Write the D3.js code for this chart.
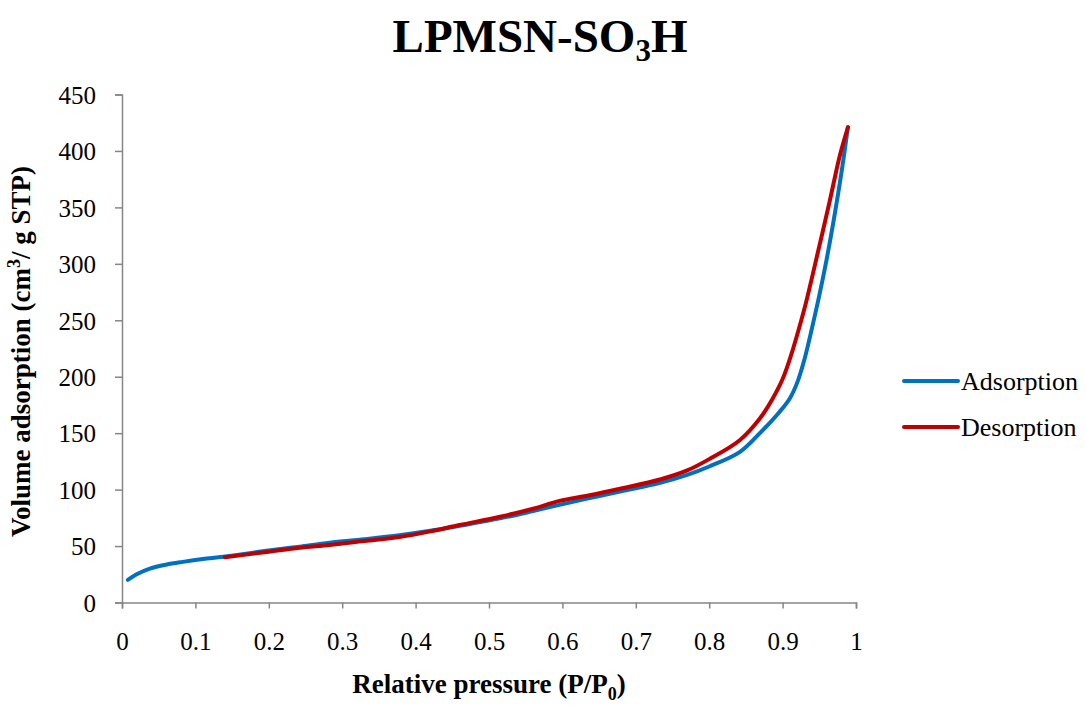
<!DOCTYPE html>
<html>
<head>
<meta charset="utf-8">
<script src="https://cdn.jsdelivr.net/npm/d3@7"></script>
<style>
  body { margin: 0; background: #fff; }
  svg text { font-family: "Times New Roman", "Liberation Serif", serif; fill: #000; }
</style>
</head>
<body>
<script>
// relative pressure / volume
const adsX = [0.008, 0.02, 0.038, 0.06, 0.083, 0.11, 0.138, 0.2, 0.242, 0.283, 0.33, 0.378, 0.42, 0.46, 0.515, 0.56, 0.596, 0.637, 0.68, 0.733, 0.77, 0.8, 0.842, 0.869, 0.896, 0.91, 0.92, 0.93, 0.94, 0.95, 0.96, 0.97, 0.98, 0.989]
const adsY = [20, 25, 30, 33.5, 36, 38.5, 40.5, 46, 49.5, 53, 56, 59.5, 63.5, 68, 74.5, 81, 86.5, 92.5, 98.5, 106, 113, 120.5, 133.5, 150, 169, 181, 195, 216, 243, 272, 304, 340, 380, 421]
const desX = [0.14, 0.2, 0.242, 0.283, 0.33, 0.378, 0.42, 0.46, 0.515, 0.56, 0.596, 0.637, 0.68, 0.733, 0.77, 0.8, 0.842, 0.869, 0.885, 0.9, 0.912, 0.922, 0.932, 0.948, 0.964, 0.978, 0.989]
const desY = [40, 45, 48.5, 51, 54.5, 58, 63, 68.6, 76, 83, 90, 95, 101, 109, 117, 127, 144, 163, 179, 198, 220, 242, 266, 310, 355, 396, 421]
const xTicks = [0, 0.1, 0.2, 0.3, 0.4, 0.5, 0.6, 0.7, 0.8, 0.9, 1]
const xTickLabels = ['0', '0.1', '0.2', '0.3', '0.4', '0.5', '0.6', '0.7', '0.8', '0.9', '1']
const yTicks = [0, 50, 100, 150, 200, 250, 300, 350, 400, 450]
const seriesNames = ['Adsorption', 'Desorption']
const seriesColors = ['#0070C0', '#C00000']

const width = 1086, height = 711
const margin = { top: 94.5, right: 230, bottom: 108.5, left: 122 }
const axisColor = '#868686'

const svg = d3.select('body').append('svg')
  .attr('width', width).attr('height', height)

const x = d3.scaleLinear().domain([0, 1]).range([margin.left, width - margin.right])
const y = d3.scaleLinear().domain([0, 450]).range([height - margin.bottom, margin.top])

// title with subscript
const title = svg.append('text')
  .attr('x', 540).attr('y', 52)
  .attr('text-anchor', 'middle')
  .style('font-size', '47px').style('font-weight', 'bold')
title.append('tspan').text('LPMSN-SO')
title.append('tspan').attr('dy', 9).style('font-size', '31px').text('3')
title.append('tspan').attr('dy', -9).text('H')

// axes
const xAxis = svg.append('g')
  .attr('transform', `translate(0,${y(0)})`)
  .call(d3.axisBottom(x).tickValues(xTicks)
    .tickFormat((d, i) => xTickLabels[i]).tickSize(6).tickPadding(24))
const yAxis = svg.append('g')
  .attr('transform', `translate(${x(0)},0)`)
  .call(d3.axisLeft(y).tickValues(yTicks).tickSize(7).tickPadding(19))

;[xAxis, yAxis].forEach((g) => {
  g.attr('font-family', null).attr('font-size', null)
  g.selectAll('path, line').attr('stroke', axisColor).attr('stroke-width', 1.5)
  g.selectAll('text').style('font-size', '25px')
})
yAxis.selectAll('text').attr('dy', '0.35em')

// axis titles
const xt = svg.append('text')
  .attr('x', (x(0) + x(1)) / 2).attr('y', 693)
  .attr('text-anchor', 'middle')
  .style('font-size', '27px').style('font-weight', 'bold')
xt.append('tspan').text('Relative pressure (P/P')
xt.append('tspan').attr('dy', 7).style('font-size', '18px').text('0')
xt.append('tspan').attr('dy', -7).text(')')

const yt = svg.append('text')
  .attr('transform', `translate(30,${(y(0) + y(450)) / 2 + 3}) rotate(-90)`)
  .attr('text-anchor', 'middle')
  .style('font-size', '27px').style('font-weight', 'bold')
yt.append('tspan').text('Volume adsorption (cm')
yt.append('tspan').attr('dy', -10).style('font-size', '18px').text('3')
yt.append('tspan').attr('dy', 10).text('/ g STP)')

// curves
const line = d3.line()
  .x((d) => x(d[0]))
  .y((d) => y(d[1]))
  .curve(d3.curveCatmullRom.alpha(0.5))

const series = [
  d3.zip(adsX, adsY),
  d3.zip(desX, desY),
]

svg.append('g')
  .selectAll('path')
  .data(series)
  .enter()
  .append('path')
  .attr('d', line)
  .attr('fill', 'none')
  .attr('stroke', (d, i) => seriesColors[i])
  .attr('stroke-width', 4)
  .attr('stroke-linecap', 'round')
  .attr('stroke-linejoin', 'round')

// legend
const legend = svg.append('g')
  .selectAll('g')
  .data(seriesNames)
  .enter()
  .append('g')
  .attr('transform', (d, i) => `translate(904,${381 + i * 46})`)
legend.append('line')
  .attr('x1', 0).attr('x2', 54)
  .attr('stroke', (d, i) => seriesColors[i])
  .attr('stroke-width', 4)
  .attr('stroke-linecap', 'round')
legend.append('text')
  .attr('x', 57).attr('dy', '0.35em')
  .style('font-size', '26px')
  .text((d) => d)
</script>
</body>
</html>
